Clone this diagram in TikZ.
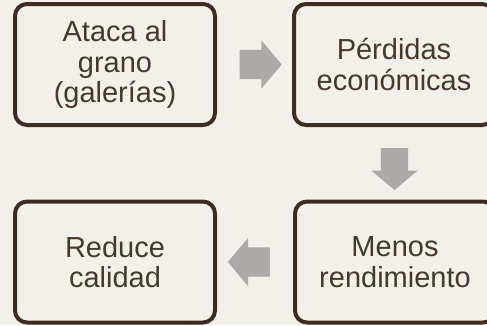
\documentclass[tikz,border=0pt]{standalone}
\usepackage{fontspec}
\setmainfont{Liberation Sans}
\usetikzlibrary{shapes.arrows,calc}
\definecolor{fondo}{HTML}{F3F0EA}
\definecolor{marron}{HTML}{3F2B1F}
\definecolor{texto}{HTML}{47382B}
\definecolor{flecha}{HTML}{ACA9A8}
\begin{document}
\begin{tikzpicture}[x=1pt,y=-1pt,
        caja/.style ={draw=marron, line width=4pt, rounded corners=12pt, fill=fondo,
                      minimum width=200pt, minimum height=121pt, align=center,
                      text=texto, font=\fontsize{29}{30.5}\selectfont},
        flecha/.style={single arrow, fill=flecha, inner xsep=0pt, inner ysep=14.5pt,
                       minimum height=42pt, single arrow head extend=9.5pt,
                       single arrow tip angle=100, anchor=center},
        flechav/.style={flecha, inner xsep=13.5pt, inner ysep=0pt, shape border rotate=270}]
        \fill[fondo] (0,0) rectangle (487,325);
        \clip (0,0) rectangle (487,325);
        \node[caja] (grano)   at (115,64.5) {Ataca al\\grano\\(galerías)};
        \node[caja] (perdida) at (394,64.5) {Pérdidas\\económicas};
        \node[caja] (menos)   at (395,262)  {Menos\\rendimiento};
        \node[caja] (calidad) at (115,262)  {Reduce\\calidad};
% flechas entre cajas
        \node[flecha] (f1) at ($(grano.east)!0.5!(perdida.west)$) {};
        \node[flechav] (f2) at ($(perdida.south)!0.5!(menos.north)$) {};
        \node[flecha, shape border rotate=180] (f3) at ($(menos.west)!0.5!(calidad.east)$) {};
    \end{tikzpicture}
\end{document}
